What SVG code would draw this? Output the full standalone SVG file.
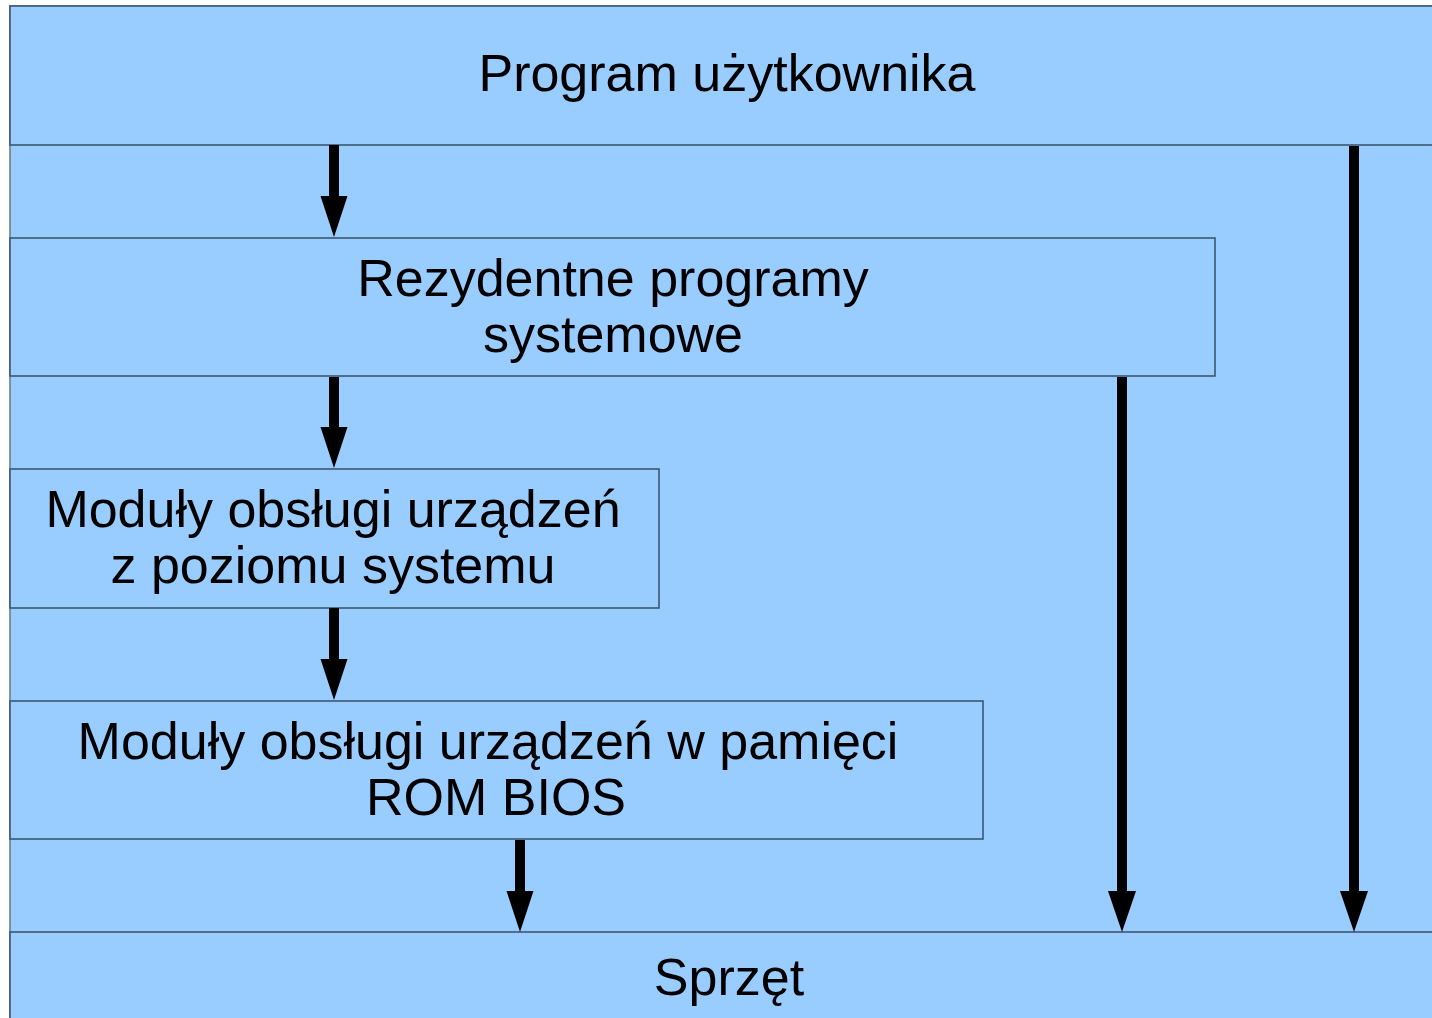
<svg xmlns="http://www.w3.org/2000/svg" width="1432" height="1018" viewBox="0 0 1432 1018">
  <defs>
    <style>
      .box { fill: #99ccff; stroke: #3d5670; stroke-width: 1.6; }
      .lbl { font-family: "Liberation Sans", Arial, sans-serif; font-size: 52px; fill: #000; text-anchor: middle; }
      .shaft { stroke: #000; stroke-width: 10; fill: none; }
      .head { fill: #000; }
    </style>
  </defs>
  <rect x="0" y="0" width="1432" height="1018" fill="#ffffff"/>
  <!-- backdrop panel -->
  <rect x="10" y="6" width="1440" height="1030" class="box" style="stroke:#6a7e92"/>

  <g id="program-uzytkownika">
    <rect class="box" x="10" y="6" width="1440" height="139"/>
    <text class="lbl" x="727" y="91">Program użytkownika</text>
  </g>

  <g id="rezydentne-programy">
    <rect class="box" x="10" y="238" width="1205" height="138"/>
    <text class="lbl" x="613" y="296">Rezydentne programy</text>
    <text class="lbl" x="613" y="352">systemowe</text>
  </g>

  <g id="moduly-systemowe">
    <rect class="box" x="10" y="469" width="649" height="139"/>
    <text class="lbl" x="333" y="527">Moduły obsługi urządzeń</text>
    <text class="lbl" x="333" y="583">z poziomu systemu</text>
  </g>

  <g id="moduly-rom-bios">
    <rect class="box" x="10" y="701" width="973" height="138"/>
    <text class="lbl" x="488" y="759">Moduły obsługi urządzeń w pamięci</text>
    <text class="lbl" x="496" y="815">ROM BIOS</text>
  </g>

  <g id="sprzet">
    <rect class="box" x="10" y="932" width="1440" height="110"/>
    <text class="lbl" x="729" y="995">Sprzęt</text>
  </g>

  <g id="connectors">
    <line class="shaft" x1="334" y1="145" x2="334" y2="198"/>
    <polygon class="head" points="320.5,196 347.5,196 334,237"/>

    <line class="shaft" x1="334" y1="377" x2="334" y2="429"/>
    <polygon class="head" points="320.5,427 347.5,427 334,468"/>

    <line class="shaft" x1="334" y1="608" x2="334" y2="661"/>
    <polygon class="head" points="320.5,659 347.5,659 334,700"/>

    <line class="shaft" x1="520" y1="840" x2="520" y2="893"/>
    <polygon class="head" points="506.5,891 533.5,891 520,932"/>

    <line class="shaft" x1="1122" y1="377" x2="1122" y2="893"/>
    <polygon class="head" points="1108,891 1136,891 1122,932"/>

    <line class="shaft" x1="1354" y1="146" x2="1354" y2="893"/>
    <polygon class="head" points="1340,891 1368,891 1354,932"/>
  </g>
</svg>
